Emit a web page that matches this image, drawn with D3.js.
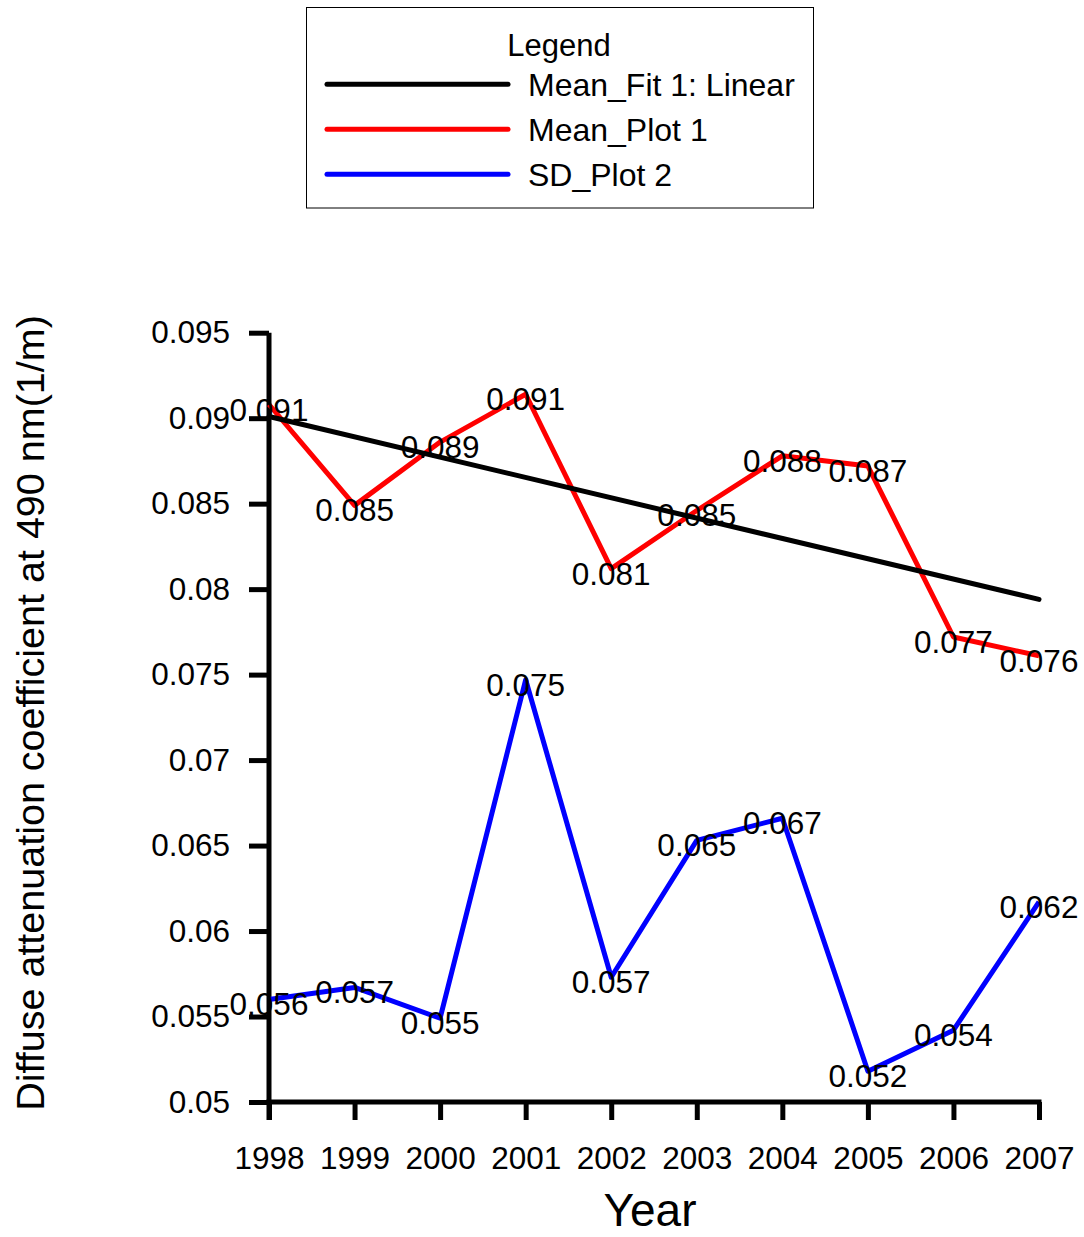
<!DOCTYPE html>
<html>
<head>
<meta charset="utf-8">
<script src="https://cdn.jsdelivr.net/npm/d3@7"></script>
<style>
  html, body { margin: 0; padding: 0; background: #fff; }
  svg text { font-family: "Liberation Sans", Arial, sans-serif; fill: #000; }
</style>
</head>
<body>
<svg id="chart" width="1084" height="1237"></svg>
<script>
// ---- data ----
const years = [1998, 1999, 2000, 2001, 2002, 2003, 2004, 2005, 2006, 2007];
const meanValues = [0.0908, 0.0849, 0.0886, 0.0914, 0.0812, 0.0846, 0.0878, 0.0872, 0.0772, 0.0761];
const sdValues = [0.0560, 0.0567, 0.0549, 0.0747, 0.0573, 0.0653, 0.0666, 0.0518, 0.0542, 0.0617];
const fitYears = [1998, 2007];
const fitValues = [0.0901, 0.0794];
const yTicks = [0.05, 0.055, 0.06, 0.065, 0.07, 0.075, 0.08, 0.085, 0.09, 0.095];
const yTickLabels = ["0.05", "0.055", "0.06", "0.065", "0.07", "0.075", "0.08", "0.085", "0.09", "0.095"];
const xTickLabels = ["1998", "1999", "2000", "2001", "2002", "2003", "2004", "2005", "2006", "2007"];
const legendLabels = ["Mean_Fit 1: Linear", "Mean_Plot 1", "SD_Plot 2"];
const legendColors = ["#000000", "#ff0000", "#0000ff"];

// ---- layout ----
const svg = d3.select("#chart");
const x = d3.scaleLinear().domain([1998, 2007]).range([269, 1039]);
const y = d3.scaleLinear().domain([0.05, 0.095]).range([1102, 332.7]);
const FS = 31.5;

// axes
const yAxis = d3.axisLeft(y).tickValues(yTicks)
  .tickFormat((d, i) => yTickLabels[i]).tickSize(20).tickSizeOuter(0).tickPadding(19);
const gy = svg.append("g").attr("transform", "translate(269,0)").call(yAxis);
gy.select(".domain").remove();
gy.selectAll(".tick line").attr("stroke", "#000").attr("stroke-width", 5);
gy.selectAll(".tick text").attr("font-size", FS).attr("font-family", "Liberation Sans, Arial, sans-serif").attr("fill", "#000");

const xAxis = d3.axisBottom(x).tickValues(years)
  .tickFormat((d, i) => xTickLabels[i]).tickSize(18).tickSizeOuter(0).tickPadding(27);
const gx = svg.append("g").attr("transform", "translate(0,1102)").call(xAxis);
gx.select(".domain").remove();
gx.selectAll(".tick line").attr("stroke", "#000").attr("stroke-width", 5);
gx.selectAll(".tick text").attr("font-size", FS).attr("font-family", "Liberation Sans, Arial, sans-serif").attr("fill", "#000");

// axis lines
svg.append("line").attr("x1", x(1998)).attr("x2", x(1998))
  .attr("y1", y(0.095)).attr("y2", 1120).attr("stroke", "#000").attr("stroke-width", 5);
svg.append("line").attr("x1", x(1998) - 2.5).attr("x2", x(2007) + 2.5)
  .attr("y1", y(0.05)).attr("y2", y(0.05)).attr("stroke", "#000").attr("stroke-width", 5);

// lines
const line = d3.line().x(d => x(d[0])).y(d => y(d[1]));
const meanPts = years.map((yr, i) => [yr, meanValues[i]]);
const sdPts = years.map((yr, i) => [yr, sdValues[i]]);
const fitPts = fitYears.map((yr, i) => [yr, fitValues[i]]);

svg.append("path").datum(meanPts).attr("d", line)
  .attr("fill", "none").attr("stroke", "#ff0000").attr("stroke-width", 5).attr("stroke-linejoin", "round");
svg.append("path").datum(fitPts).attr("d", line)
  .attr("fill", "none").attr("stroke", "#000").attr("stroke-width", 5).attr("stroke-linecap", "round");
svg.append("path").datum(sdPts).attr("d", line)
  .attr("fill", "none").attr("stroke", "#0000ff").attr("stroke-width", 5).attr("stroke-linejoin", "round");

// data labels
const fmt = d3.format(".3f");
function labels(pts) {
  svg.append("g").selectAll("text").data(pts).join("text")
    .attr("x", d => x(d[0]))
    .attr("y", d => y(d[1]) + 5)
    .attr("text-anchor", "middle")
    .attr("dominant-baseline", "central")
    .attr("font-size", FS)
    .text(d => fmt(d[1]));
}
labels(meanPts);
labels(sdPts);

// axis titles
svg.append("text").attr("x", 650).attr("y", 1226).attr("text-anchor", "middle")
  .attr("font-size", 46).text("Year");
svg.append("text").attr("transform", "translate(44,713) rotate(-90)").attr("text-anchor", "middle")
  .attr("font-size", 39.5).text("Diffuse attenuation coefficient at 490 nm(1/m)");

// legend
const lg = svg.append("g");
lg.append("rect").attr("x", 306.5).attr("y", 7.5).attr("width", 507).attr("height", 200.5)
  .attr("fill", "#fff").attr("stroke", "#000").attr("stroke-width", 1);
lg.append("text").attr("x", 559).attr("y", 56).attr("text-anchor", "middle")
  .attr("font-size", 31).text("Legend");
const items = lg.selectAll("g.item").data(legendLabels).join("g").attr("class", "item")
  .attr("transform", (d, i) => `translate(0,${84.3 + i * 45})`);
items.append("line").attr("x1", 327).attr("x2", 508).attr("y1", 0).attr("y2", 0)
  .attr("stroke", (d, i) => legendColors[i]).attr("stroke-width", 5).attr("stroke-linecap", "round");
items.append("text").attr("x", 528).attr("y", 11.5).attr("font-size", 32).text(d => d);
</script>
</body>
</html>
